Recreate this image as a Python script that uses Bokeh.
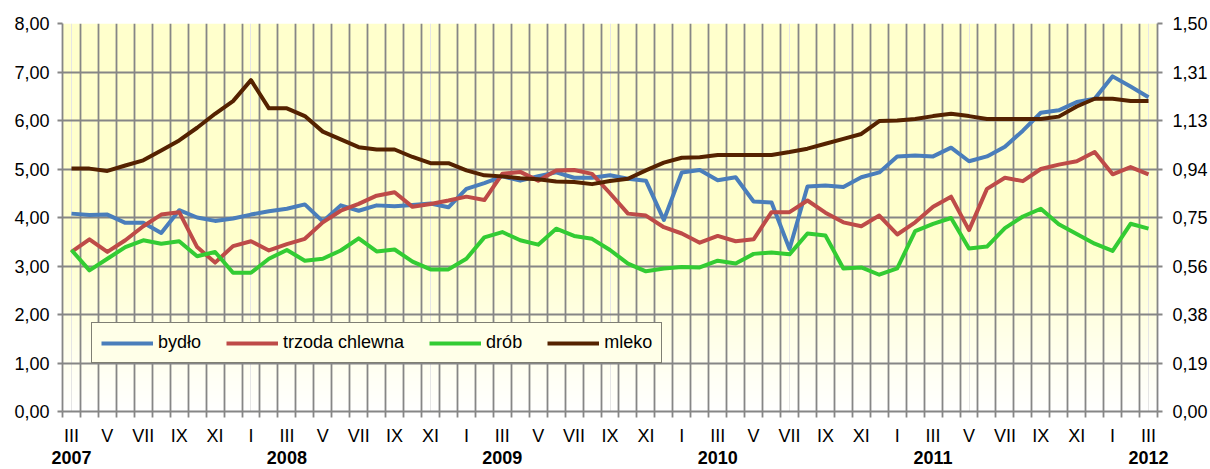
import numpy as np
from bokeh.plotting import figure
from bokeh.models import (Range1d, LinearAxis, FixedTicker, Legend, LegendItem, Grid)
from bokeh.embed import file_html
from bokeh.resources import INLINE

# ---------------- data ----------------
ROMAN = ["I", "II", "III", "IV", "V", "VI", "VII", "VIII", "IX", "X", "XI", "XII"]
years = [2007, 2008, 2009, 2010, 2011, 2012]
months = [(y, m) for y in years for m in range(1, 13) if (2007, 3) <= (y, m) <= (2012, 3)]
month_labels = [ROMAN[m - 1] for (y, m) in months]

# zł/kg (left axis)
bydlo = [4.08, 4.05, 4.06, 3.89, 3.89, 3.68, 4.15, 4.00, 3.93, 3.98,
         4.06, 4.13, 4.18, 4.27, 3.92, 4.25, 4.14, 4.25, 4.23, 4.26,
         4.29, 4.21, 4.59, 4.71, 4.85, 4.76, 4.85, 4.93, 4.82, 4.82,
         4.87, 4.80, 4.76, 3.95, 4.93, 4.98, 4.77, 4.83, 4.33, 4.31,
         3.35, 4.64, 4.66, 4.63, 4.83, 4.93, 5.26, 5.28, 5.26, 5.44,
         5.16, 5.26, 5.46, 5.79, 6.16, 6.21, 6.38, 6.45, 6.91, 6.70,
         6.48]
trzoda = [3.29, 3.55, 3.29, 3.53, 3.82, 4.06, 4.11, 3.39, 3.07, 3.41,
          3.51, 3.32, 3.45, 3.56, 3.90, 4.14, 4.28, 4.45, 4.52, 4.22,
          4.28, 4.35, 4.43, 4.36, 4.90, 4.94, 4.76, 4.97, 4.98, 4.90,
          4.50, 4.08, 4.04, 3.80, 3.67, 3.48, 3.62, 3.51, 3.55, 4.11,
          4.11, 4.35, 4.10, 3.90, 3.82, 4.04, 3.65, 3.90, 4.22, 4.43,
          3.74, 4.59, 4.82, 4.75, 5.00, 5.09, 5.16, 5.35, 4.89, 5.04,
          4.89]
drob = [3.33, 2.91, 3.15, 3.39, 3.53, 3.46, 3.51, 3.20, 3.29, 2.86,
        2.86, 3.15, 3.33, 3.11, 3.15, 3.32, 3.57, 3.30, 3.34, 3.09,
        2.93, 2.93, 3.15, 3.59, 3.70, 3.53, 3.44, 3.77, 3.62, 3.56,
        3.33, 3.05, 2.89, 2.95, 2.98, 2.97, 3.11, 3.05, 3.25, 3.28,
        3.24, 3.67, 3.63, 2.95, 2.97, 2.82, 2.95, 3.72, 3.87, 3.99,
        3.36, 3.40, 3.78, 4.02, 4.18, 3.86, 3.66, 3.46, 3.31, 3.87,
        3.77]
# zł/l (right axis)
mleko = [0.939, 0.939, 0.930, 0.951, 0.971, 1.009, 1.048, 1.097, 1.151, 1.200,
         1.281, 1.172, 1.172, 1.142, 1.082, 1.052, 1.022, 1.013, 1.013, 0.984,
         0.960, 0.960, 0.932, 0.913, 0.909, 0.902, 0.898, 0.889, 0.887, 0.879,
         0.891, 0.900, 0.932, 0.962, 0.981, 0.983, 0.992, 0.992, 0.992, 0.992,
         1.003, 1.016, 1.035, 1.054, 1.073, 1.123, 1.125, 1.131, 1.142, 1.151,
         1.142, 1.131, 1.131, 1.131, 1.131, 1.140, 1.179, 1.209, 1.209, 1.200,
         1.200]

series_names = ["bydło", "trzoda chlewna", "drób", "mleko"]
series_colors = ["#4A7EBB", "#BE4B48", "#33CC33", "#552200"]

left_ticks = [0, 1, 2, 3, 4, 5, 6, 7, 8]
left_labels = ["0,00", "1,00", "2,00", "3,00", "4,00", "5,00", "6,00", "7,00", "8,00"]
right_ticks = [0.0, 0.1875, 0.375, 0.5625, 0.75, 0.9375, 1.125, 1.3125, 1.5]
right_labels = ["0,00", "0,19", "0,38", "0,56", "0,75", "0,94", "1,13", "1,31", "1,50"]

# ---------------- figure ----------------
n = len(months)
x = list(range(n))
FONT = "Liberation Sans"
GRID = "#868686"
GW = 1.8

p = figure(width=1210, height=469, output_backend="svg", toolbar_location=None,
           x_range=Range1d(-0.5, n - 0.5), y_range=Range1d(0, 8),
           x_axis_location=None, y_axis_location=None,
           min_border_left=62, min_border_right=53, min_border_top=23, min_border_bottom=58)
p.extra_y_ranges = {"mleko": Range1d(0, 1.5)}
p.outline_line_color = None
p.background_fill_color = "white"
p.border_fill_color = "white"

# gradient background (yellow at top, fading to white at bottom)
H = 300
yy = np.linspace(0, 8, H)
f = np.clip(yy / 3.5, 0, 1)
img = np.zeros((H, 1), dtype=np.uint32)
view = img.view(dtype=np.uint8).reshape((H, 1, 4))
view[:, 0, 0] = 255
view[:, 0, 1] = 255
view[:, 0, 2] = (255 - (255 - 204) * f).astype(np.uint8)
view[:, 0, 3] = 255
p.image_rgba(image=[img], x=-0.5, y=0, dw=n, dh=8, level="image")

# grids
p.add_layout(Grid(dimension=0, ticker=FixedTicker(ticks=[i - 0.5 for i in range(n + 1)]),
                  grid_line_color=GRID, grid_line_width=GW))
p.add_layout(Grid(dimension=1, ticker=FixedTicker(ticks=left_ticks),
                  grid_line_color=GRID, grid_line_width=GW))

# lines
renderers = []
for vals, col in zip([bydlo, trzoda, drob], series_colors[:3]):
    renderers.append(p.line(x, vals, line_width=4, line_color=col, line_join="round"))
renderers.append(p.line(x, mleko, y_range_name="mleko", line_width=4,
                        line_color=series_colors[3], line_join="round"))

# axes
common = dict(axis_line_color=GRID, axis_line_width=GW, major_tick_line_color=GRID,
              major_tick_line_width=GW, minor_tick_line_color=None,
              major_label_text_font=FONT, major_label_text_color="black",
              major_label_text_font_size="18px")

left = LinearAxis(ticker=FixedTicker(ticks=left_ticks, minor_ticks=[]),
                  major_label_overrides={t: l for t, l in zip(left_ticks, left_labels)},
                  major_tick_out=5, major_tick_in=0, major_label_standoff=8, **common)
p.add_layout(left, "left")

right = LinearAxis(y_range_name="mleko", ticker=FixedTicker(ticks=right_ticks, minor_ticks=[]),
                   major_label_overrides={t: l for t, l in zip(right_ticks, right_labels)},
                   major_tick_out=5, major_tick_in=0, major_label_standoff=10, **common)
p.add_layout(right, "right")

even = list(range(0, n, 2))
xa = LinearAxis(ticker=FixedTicker(ticks=even, minor_ticks=[i - 0.5 for i in range(n + 1)]),
                major_label_overrides={i: month_labels[i] for i in even},
                axis_line_color=GRID, axis_line_width=GW,
                major_tick_line_color=None, major_tick_out=5, major_tick_in=0,
                minor_tick_line_color=GRID, minor_tick_line_width=GW,
                minor_tick_out=6, minor_tick_in=0,
                major_label_standoff=8, major_label_text_font=FONT,
                major_label_text_font_size="18px", major_label_text_color="black")
p.add_layout(xa, "below")

year_idx = [i for i, (y, m) in enumerate(months) if m == 3]
ya = LinearAxis(ticker=FixedTicker(ticks=year_idx, minor_ticks=[]),
                major_label_overrides={i: str(months[i][0]) for i in year_idx},
                axis_line_color=None, major_tick_line_color=None, minor_tick_line_color=None,
                major_tick_out=0, major_tick_in=0, major_label_standoff=2,
                major_label_text_font=FONT, major_label_text_font_style="bold",
                major_label_text_font_size="18px", major_label_text_color="black")
p.add_layout(ya, "below")

legend = Legend(items=[LegendItem(label=nm, renderers=[r]) for nm, r in zip(series_names, renderers)],
                orientation="horizontal", location=(29, 48), padding=9, spacing=25,
                glyph_width=52, glyph_height=20, label_standoff=5,
                label_text_font=FONT, label_text_font_size="18px", label_text_color="black",
                border_line_color="black", border_line_width=1,
                background_fill_color="#FFFFE8", background_fill_alpha=1.0, margin=0)
p.add_layout(legend, "center")

open("out.html", "w").write(file_html(p, INLINE))
